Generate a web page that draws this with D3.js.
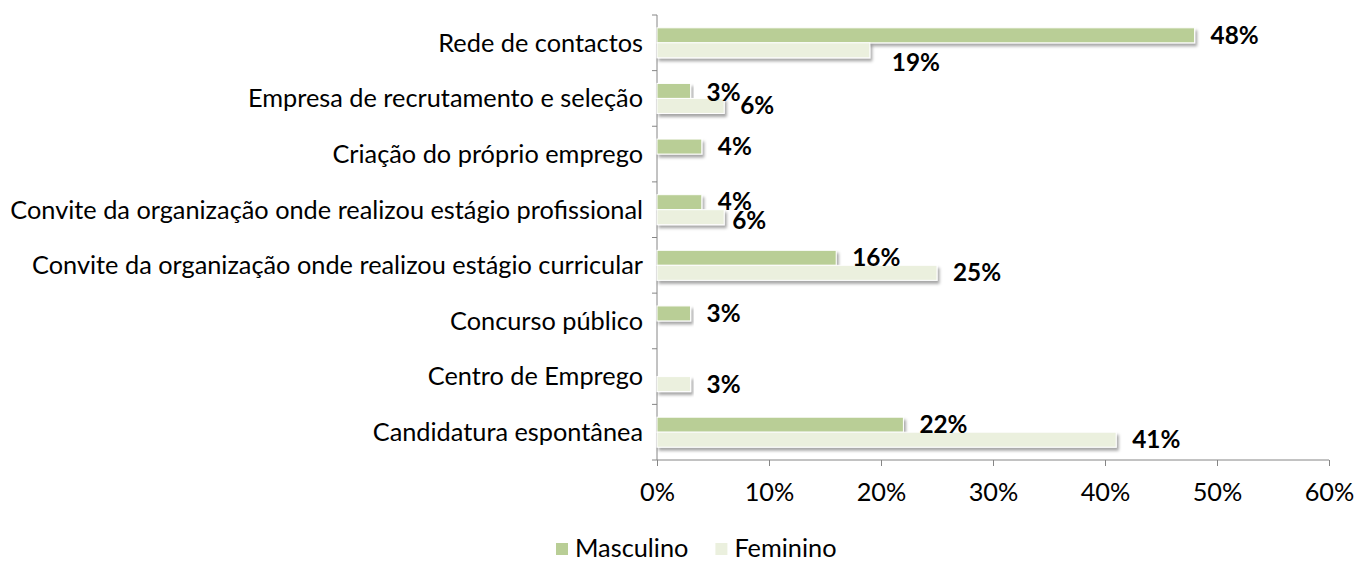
<!DOCTYPE html>
<html>
<head>
<meta charset="utf-8">
<script src="https://cdn.jsdelivr.net/npm/d3@7"></script>
<style>
  body { margin: 0; background: #fff; }
  svg text { font-family: Lato, "Open Sans", sans-serif; fill: #000; }
  .axis path, .axis line { stroke: #868686; }
  .value-label { font-weight: bold; }
</style>
</head>
<body>
<div id="chart"></div>
<script>
// Categories, top to bottom
const categories = [
  'Rede de contactos',
  'Empresa de recrutamento e seleção',
  'Criação do próprio emprego',
  'Convite da organização onde realizou estágio profissional',
  'Convite da organização onde realizou estágio curricular',
  'Concurso público',
  'Centro de Emprego',
  'Candidatura espontânea'
];
const seriesNames = ['Masculino', 'Feminino'];
const masculino = [48, 3, 4, 4, 16, 3, 0, 22];
const feminino = [19, 6, 0, 6, 25, 0, 3, 41];
const xTicks = [0, 10, 20, 30, 40, 50, 60];

const colors = {Masculino: '#b9ce96', Feminino: '#ebf0de'};

const width = 1356, height = 561;
const margin = {top: 15, right: 27, bottom: 101, left: 657};
const barHeight = 15;
const fontSize = 25;

const svg = d3.select('#chart').append('svg')
    .attr('width', width)
    .attr('height', height);

// soft drop shadow like the original bars
const defs = svg.append('defs');
defs.append('filter')
    .attr('id', 'shadow')
    .attr('x', '-5%').attr('y', '-30%')
    .attr('width', '115%').attr('height', '190%')
  .append('feDropShadow')
    .attr('dx', 2).attr('dy', 3)
    .attr('stdDeviation', 1.6)
    .attr('flood-color', '#000')
    .attr('flood-opacity', 0.35);

const x = d3.scaleLinear()
    .domain([0, 60])
    .range([margin.left, width - margin.right]);

const y = d3.scaleBand()
    .domain(categories)
    .range([margin.top, height - margin.bottom])
    .paddingInner(0);

const ySub = d3.scaleBand()
    .domain(seriesNames)
    .range([y.bandwidth() / 2 - barHeight, y.bandwidth() / 2 + barHeight]);

// rows: one entry per category and series
const rows = [];
categories.forEach((c, i) => {
  rows.push({cat: c, series: 'Masculino', value: masculino[i]});
  rows.push({cat: c, series: 'Feminino', value: feminino[i]});
});

// y axis: line + ticks at band boundaries
const yAxis = svg.append('g').attr('class', 'axis');
yAxis.append('line')
    .attr('x1', x(0)).attr('x2', x(0))
    .attr('y1', y.range()[0]).attr('y2', y.range()[1]);
const boundaries = categories.map(c => y(c)).concat([y.range()[1]]);
yAxis.selectAll('.ytick')
    .data(boundaries)
  .join('line')
    .attr('class', 'ytick')
    .attr('x1', x(0) - 5).attr('x2', x(0))
    .attr('y1', d => d).attr('y2', d => d);

const catLabels = yAxis.selectAll('.cat-label')
    .data(categories)
  .join('text')
    .attr('class', 'cat-label')
    .attr('x', x(0) - 14)
    .attr('y', d => y(d) + y.bandwidth() / 2)
    .attr('dy', '0.35em')
    .attr('text-anchor', 'end')
    .style('font-size', fontSize + 'px')
    .text(d => d);

// fit the longest label to the width it has in the original (~633px)
const longest = d3.max(catLabels.nodes(), n => n.getComputedTextLength());
const catFont = fontSize * 633 / longest;
catLabels.style('font-size', catFont + 'px');

// x axis
const xAxis = svg.append('g')
    .attr('class', 'axis')
    .attr('transform', `translate(0,${y.range()[1]})`)
    .call(d3.axisBottom(x).tickValues(xTicks).tickSize(6).tickSizeOuter(0).tickFormat(d => d + '%'));
xAxis.select('.domain').attr('d', `M${x(0)},0H${x(60)}`);
xAxis.selectAll('.tick text')
    .attr('y', 23)
    .style('font-size', catFont + 'px')
    .style('font-family', 'Lato, "Open Sans", sans-serif')
    .attr('fill', '#000');

// bars
svg.append('g').selectAll('rect')
    .data(rows.filter(d => d.value > 0))
  .join('rect')
    .attr('x', x(0))
    .attr('y', d => y(d.cat) + ySub(d.series))
    .attr('width', d => x(d.value) - x(0))
    .attr('height', ySub.bandwidth())
    .attr('fill', d => colors[d.series])
    .attr('stroke', '#fff')
    .attr('stroke-width', 1)
    .attr('filter', 'url(#shadow)');

// a few labels were nudged by hand in the original
const nudge = {
  'Rede de contactos|Feminino': [6, 12],
  'Empresa de recrutamento e seleção|Masculino': [0, 2],
  'Convite da organização onde realizou estágio profissional|Masculino': [0, -1],
  'Convite da organização onde realizou estágio profissional|Feminino': [-8, 3]
};
const nudgeOf = d => nudge[d.cat + '|' + d.series] || [0, 0];

svg.append('g').selectAll('text')
    .data(rows.filter(d => d.value > 0))
  .join('text')
    .attr('class', 'value-label')
    .attr('x', d => x(d.value) + 16 + nudgeOf(d)[0])
    .attr('y', d => y(d.cat) + ySub(d.series) + ySub.bandwidth() / 2 + nudgeOf(d)[1])
    .attr('dy', '0.35em')
    .style('font-size', (catFont - 1) + 'px')
    .text(d => d.value + '%');

// legend
const legend = svg.append('g')
    .attr('transform', `translate(556,548)`);
let lx = 0;
seriesNames.forEach(s => {
  legend.append('rect')
      .attr('x', lx).attr('y', -5)
      .attr('width', 12).attr('height', 12)
      .attr('fill', colors[s]);
  const t = legend.append('text')
      .attr('x', lx + 19)
      .attr('dy', '0.35em')
      .style('font-size', catFont + 'px')
      .text(s);
  lx += 19 + t.node().getComputedTextLength() + 27;
});
</script>
</body>
</html>
